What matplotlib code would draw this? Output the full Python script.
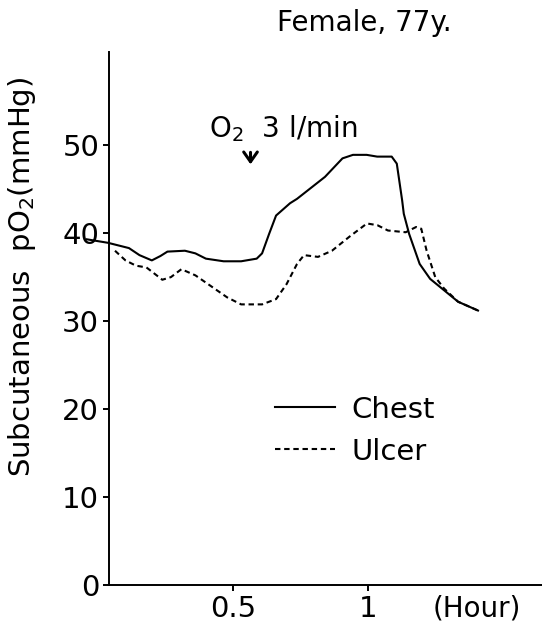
#! /usr/bin/env python3
# -*- coding: utf-8 -*-
import matplotlib
matplotlib.use('Agg')
import matplotlib.pyplot as plt

# time (hour) and subcutaneous pO2 (mmHg)
chest_t = [-0.045, 0.034, 0.112, 0.151, 0.197, 0.229, 0.255, 0.32, 0.359, 0.398,
           0.464, 0.529, 0.587, 0.607, 0.633, 0.659, 0.711, 0.737, 0.841, 0.906,
           0.945, 0.996, 1.035, 1.089, 1.108, 1.128, 1.134, 1.154, 1.193, 1.232,
           1.284, 1.336, 1.41]
chest_po2 = [39.3, 38.9, 38.3, 37.5, 36.9, 37.4, 37.9, 38.0, 37.7, 37.1,
             36.8, 36.8, 37.1, 37.7, 39.9, 42.0, 43.4, 43.9, 46.4, 48.5,
             48.9, 48.9, 48.7, 48.7, 47.9, 43.7, 42.2, 39.9, 36.5, 34.8,
             33.5, 32.2, 31.2]

ulcer_t = [0.060, 0.099, 0.138, 0.177, 0.236, 0.268, 0.307, 0.359, 0.411, 0.477,
           0.529, 0.607, 0.659, 0.698, 0.737, 0.763, 0.815, 0.867, 0.932, 0.997,
           1.036, 1.075, 1.141, 1.180, 1.199, 1.219, 1.251, 1.284, 1.336, 1.41]
ulcer_po2 = [38.0, 36.9, 36.3, 36.1, 34.7, 35.0, 35.9, 35.2, 34.1, 32.7,
             31.9, 31.9, 32.5, 34.2, 36.5, 37.5, 37.3, 38.0, 39.6, 41.1,
             40.9, 40.3, 40.1, 40.7, 40.5, 38.0, 35.0, 33.7, 32.2, 31.2]

y_ticks = [0, 10, 20, 30, 40, 50]
x_ticks = [0.5, 1.0]
x_tick_labels = ['0.5', '1']

plt.rcParams['font.family'] = ['DejaVu Sans']
plt.rcParams['mathtext.fontset'] = 'dejavusans'


def plot_po2():
    fig = plt.figure(figsize=(5.42, 6.29), dpi=100)
    ax = fig.add_axes([0.201, 0.07, 0.799, 0.847])

    ax.plot(chest_t, chest_po2, c='black', lw=1.5, clip_on=False, label='Chest')
    ax.plot(ulcer_t, ulcer_po2, c='black', lw=1.5, ls=(0, (2.6, 1.8)),
            clip_on=False, label='Ulcer')

    ax.set_xlim(0.0375, 1.648)
    ax.set_ylim(0, 60.57)
    ax.spines['top'].set_visible(False)
    ax.spines['right'].set_visible(False)
    ax.spines['left'].set_linewidth(1.4)
    ax.spines['bottom'].set_linewidth(1.4)

    ax.set_yticks(y_ticks)
    ax.set_xticks(x_ticks)
    ax.set_xticklabels(x_tick_labels)
    ax.tick_params(axis='both', direction='out', length=4, width=1.4,
                   labelsize=21, pad=3)

    ax.annotate('(Hour)', xy=(1.407, 0), xycoords=ax.get_xaxis_transform(),
                xytext=(0, -7), textcoords='offset points',
                ha='center', va='top', fontsize=20)

    ax.set_ylabel('Subcutaneous  pO$_2$(mmHg)', fontsize=21)
    ax.yaxis.set_label_coords(-0.164, 0.578)

    fig.text(0.673, 0.963, 'Female, 77y.', ha='center', va='center', fontsize=20)

    ax.text(0.687, 51.9, 'O$_2$  3 l/min', ha='center', va='center', fontsize=20)
    ax.annotate('', xy=(0.564, 47.5), xytext=(0.564, 49.5),
                arrowprops=dict(arrowstyle='->, head_width=0.35, head_length=0.5',
                                color='black', lw=2.2, mutation_scale=14))

    legend = ax.legend(loc='upper left', bbox_to_anchor=(0.383, 0.3555),
                       frameon=False, fontsize=21, handlelength=2.07,
                       handletextpad=0.55, labelspacing=0.48, borderpad=0,
                       borderaxespad=0)

    fig.savefig('out.png', dpi=100)
    return


def main():
    plot_po2()
    return

if __name__ == '__main__':
    main()
